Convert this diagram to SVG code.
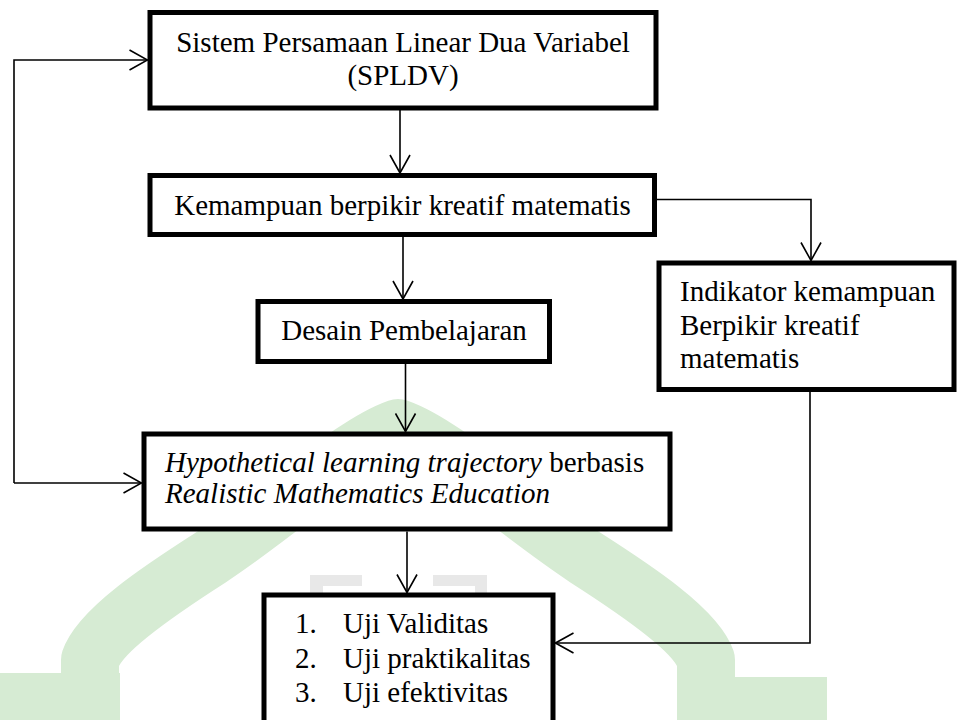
<svg xmlns="http://www.w3.org/2000/svg" width="958" height="720" viewBox="0 0 958 720">
  <style>
    .box { fill: #ffffff; stroke: #000000; stroke-width: 5; }
    .lbl { font-family: "Liberation Serif", "Times New Roman", serif; font-size: 29px; fill: #000000; }
    .mid { text-anchor: middle; }
    .it { font-style: italic; }
    .wire { fill: none; stroke: #000000; stroke-width: 1.6; }
    .mark { fill: #d6ebd3; }
    .mark-line { fill: none; stroke: #d6ebd3; stroke-width: 58; stroke-linejoin: round; }
    .mark-grey { fill: #e8e8e8; }
  </style>
  <defs>
    <marker id="arrow" viewBox="0 0 20 22" refX="19" refY="11" markerWidth="20" markerHeight="22" orient="auto" markerUnits="userSpaceOnUse">
      <path d="M1,1 L19,11 L1,21" fill="none" stroke="#000000" stroke-width="1.6"/>
    </marker>
  </defs>

  <rect width="958" height="720" fill="#ffffff"/>

  <!-- faint arch emblem behind the chart -->
  <g id="emblem">
    <path class="mark-line" d="M90,720 L90,660 C100,630 160,590 210,558 C290,505 350,445 398,428 C446,445 506,505 586,558 C636,590 696,630 706,660 L706,720"/>
    <rect class="mark" x="0" y="673" width="120" height="47"/>
    <rect class="mark" x="677" y="677" width="150" height="43"/>
    <path class="mark-grey" d="M310,575 H362 V586 H323 V596 H310 Z"/>
    <path class="mark-grey" d="M433,575 H487 V596 H475 V586 H433 Z"/>
  </g>

  <!-- connectors -->
  <g id="connectors">
    <path class="wire" d="M400,110 V173" marker-end="url(#arrow)"/>
    <path class="wire" d="M403,237 V299" marker-end="url(#arrow)"/>
    <path class="wire" d="M405.5,364 V431.5" marker-end="url(#arrow)"/>
    <path class="wire" d="M407,531.5 V592.5" marker-end="url(#arrow)"/>
    <path class="wire" d="M656.5,199.5 H811 V260.5" marker-end="url(#arrow)"/>
    <path class="wire" d="M810,392 V643 H555.5" marker-end="url(#arrow)"/>
    <path class="wire" d="M14,483 V60 H147.5" marker-end="url(#arrow)"/>
    <path class="wire" d="M14,483 H141.5" marker-end="url(#arrow)"/>
  </g>

  <g id="node-spldv">
    <rect class="box" x="150" y="12.5" width="506" height="95.5"/>
    <text class="lbl mid" x="403" y="52">Sistem Persamaan Linear Dua Variabel</text>
    <text class="lbl mid" x="403" y="85">(SPLDV)</text>
  </g>

  <g id="node-kemampuan">
    <rect class="box" x="150" y="175.5" width="504.5" height="59"/>
    <text class="lbl mid" x="402.5" y="215">Kemampuan berpikir kreatif matematis</text>
  </g>

  <g id="node-desain">
    <rect class="box" x="258" y="301.5" width="291.5" height="60"/>
    <text class="lbl mid" x="404" y="340">Desain Pembelajaran</text>
  </g>

  <g id="node-indikator">
    <rect class="box" x="659" y="263" width="295" height="126.5"/>
    <text class="lbl" x="680" y="301">Indikator kemampuan</text>
    <text class="lbl" x="680" y="335">Berpikir kreatif</text>
    <text class="lbl" x="680" y="368">matematis</text>
  </g>

  <g id="node-hlt">
    <rect class="box" x="144" y="434" width="526" height="95"/>
    <text class="lbl" x="165" y="472"><tspan class="it">Hypothetical learning trajectory</tspan> berbasis</text>
    <text class="lbl it" x="165" y="503">Realistic Mathematics Education</text>
  </g>

  <g id="node-uji">
    <rect class="box" x="264" y="595" width="289" height="140"/>
    <text class="lbl" x="295" y="633">1.</text>
    <text class="lbl" x="343" y="633">Uji Validitas</text>
    <text class="lbl" x="295" y="668">2.</text>
    <text class="lbl" x="343" y="668">Uji praktikalitas</text>
    <text class="lbl" x="295" y="702">3.</text>
    <text class="lbl" x="343" y="702">Uji efektivitas</text>
  </g>
</svg>
